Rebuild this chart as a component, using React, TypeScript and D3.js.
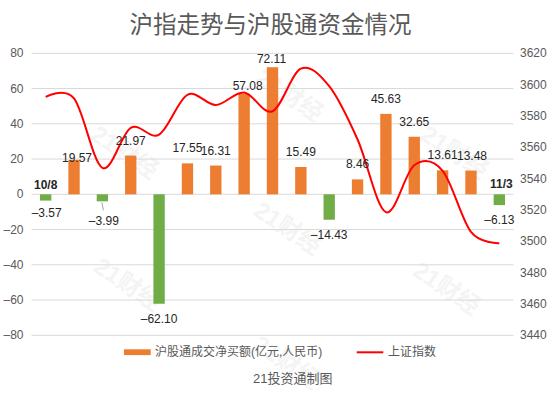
import React from 'react';
import * as d3 from 'd3';

const dates = ['10/8', '10/11', '10/12', '10/15', '10/18', '10/19', '10/20', '10/21', '10/22', '10/25', '10/26', '10/27', '10/28', '10/29', '11/1', '11/2', '11/3'];
const netBuy = [-3.57, 19.57, -3.99, 21.97, -62.1, 17.55, 16.31, 57.08, 72.11, 15.49, -14.43, 8.46, 45.63, 32.65, 13.61, 13.48, -6.13];
const shIndex = [3592.2, 3591.2, 3546.9, 3572.4, 3568.1, 3593.5, 3587.0, 3595.0, 3583.0, 3610.2, 3599.0, 3565.0, 3518.6, 3548.5, 3545.0, 3506.0, 3498.8];
const leftTicks = [-80, -60, -40, -20, 0, 20, 40, 60, 80];
const rightTicks = [3440, 3460, 3480, 3500, 3520, 3540, 3560, 3580, 3600, 3620];
const title = '沪指走势与沪股通资金情况';
const legendBar = '沪股通成交净买额(亿元,人民币)';
const legendLine = '上证指数';
const source = '21投资通制图';
const watermark = '21财经';

const W = 554;
const H = 399;
const PLOT = { left: 31.5, right: 513.5, top: 53.3, bottom: 335.3 };
const ORANGE = '#ED7D31';
const GREEN = '#70AD47';
const RED = '#FF0000';
const GRID = '#D9D9D9';
const AXIS_TEXT = '#595959';
const FONT = "'Liberation Sans', Arial, 'Noto Sans CJK SC', sans-serif";

// label placement tweaks (index -> dx, gap from bar end)
const labelNudge: Record<number, { dx: number; gap: number }> = {
  0: { dx: 1, gap: 12.5 },
  1: { dx: 3, gap: 1.5 },
  2: { dx: 1.5, gap: 20 },
  7: { dx: 3.5, gap: 8 },
  8: { dx: -1, gap: 8 },
  14: { dx: 0, gap: 15 },
  15: { dx: 1, gap: 15 },
};

const watermarkSpots = [
  [125, 152], [290, 95], [455, 152], [128, 284], [288, 228], [447, 288], [287, 362],
];

const fmt = (v: number) => (v < 0 ? '–' + Math.abs(v).toFixed(2) : v.toFixed(2));
const fmtTick = (v: number) => (v < 0 ? '–' + Math.abs(v) : String(v));

export default function App() {
  const x = d3
    .scaleBand<string>()
    .domain(dates)
    .range([PLOT.left, PLOT.right])
    .paddingInner(0.6)
    .paddingOuter(0.3);
  const yL = d3.scaleLinear().domain([-80, 80]).range([PLOT.bottom, PLOT.top]);
  const yR = d3.scaleLinear().domain([3440, 3620]).range([PLOT.bottom, PLOT.top]);
  const cx = (i: number) => (x(dates[i]) as number) + x.bandwidth() / 2;

  const linePath = d3
    .line<number>()
    .x((_, i) => cx(i))
    .y((d) => yR(d))
    .curve(d3.curveCardinal.tension(0))(shIndex) as string;

  return (
    <svg
      width={W}
      height={H}
      viewBox={`0 0 ${W} ${H}`}
      style={{ position: 'absolute', left: 0, top: 0, background: '#fff' }}
      fontFamily={FONT}
    >
      <rect x={0} y={0} width={W} height={H} fill="#fff" />
      {/* watermarks */}
      {watermarkSpots.map(([wx, wy], i) => (
        <text
          key={'wm' + i}
          x={wx}
          y={wy}
          transform={`rotate(34 ${wx} ${wy})`}
          textAnchor="middle"
          dominantBaseline="central"
          fontSize={24}
          fontWeight="bold"
          fill="#000"
          opacity={0.04}
        >
          {watermark}
        </text>
      ))}
      {/* title */}
      <text x={270.5} y={22.5} textAnchor="middle" dominantBaseline="central" fontSize={23.5} fill={AXIS_TEXT} fontFamily="'Noto Sans CJK SC', sans-serif">
        {title}
      </text>
      {/* gridlines */}
      {leftTicks.map((t) => (
        <line key={'g' + t} x1={PLOT.left} x2={PLOT.right} y1={yL(t)} y2={yL(t)} stroke={GRID} strokeWidth={1} />
      ))}
      {/* left ticks */}
      {leftTicks.map((t) => (
        <text key={'l' + t} x={23.5} y={yL(t)} textAnchor="end" dominantBaseline="central" fontSize={12} fill={AXIS_TEXT}>
          {fmtTick(t)}
        </text>
      ))}
      {/* right ticks */}
      {rightTicks.map((t) => (
        <text key={'r' + t} x={520} y={yR(t)} textAnchor="start" dominantBaseline="central" fontSize={12} fill={AXIS_TEXT}>
          {t}
        </text>
      ))}
      {/* bars */}
      {netBuy.map((v, i) => (
        <rect
          key={'b' + i}
          x={x(dates[i])}
          width={x.bandwidth()}
          y={v >= 0 ? yL(v) : yL(0)}
          height={Math.abs(yL(v) - yL(0))}
          fill={v >= 0 ? ORANGE : GREEN}
        />
      ))}
      {/* line */}
      <path d={linePath} fill="none" stroke={RED} strokeWidth={2} strokeLinejoin="round" />
      {/* leader line for index 2 */}
      <line x1={cx(2) - 0.5} y1={yL(netBuy[2]) + 1} x2={cx(2) + 1} y2={yL(netBuy[2]) + 9} stroke="#A6A6A6" strokeWidth={1} />
      {/* value labels */}
      {netBuy.map((v, i) => {
        const n = labelNudge[i] || { dx: 0, gap: 15 };
        const yc = v >= 0 ? yL(v) - n.gap : yL(v) + n.gap;
        return (
          <text key={'v' + i} x={cx(i) + n.dx} y={yc} textAnchor="middle" dominantBaseline="central" fontSize={12} fill="#262626">
            {fmt(v)}
          </text>
        );
      })}
      {/* first / last date labels */}
      <text x={cx(0)} y={185} textAnchor="middle" dominantBaseline="central" fontSize={12} fontWeight="bold" fill="#262626">
        {dates[0]}
      </text>
      <text x={cx(dates.length - 1) + 2} y={183.5} textAnchor="middle" dominantBaseline="central" fontSize={12} fontWeight="bold" fill="#262626">
        {dates[dates.length - 1]}
      </text>
      {/* legend */}
      <rect x={124} y={349.3} width={26.7} height={5.8} fill={ORANGE} />
      <text x={155} y={352} dominantBaseline="central" fontSize={12} fill={AXIS_TEXT}>
        {legendBar}
      </text>
      <line x1={356.7} x2={383.3} y1={352.3} y2={352.3} stroke={RED} strokeWidth={2} />
      <text x={388} y={352} dominantBaseline="central" fontSize={12} fill={AXIS_TEXT}>
        {legendLine}
      </text>
      <text x={292.7} y={378.5} textAnchor="middle" dominantBaseline="central" fontSize={13} fill={AXIS_TEXT}>
        {source}
      </text>
    </svg>
  );
}
